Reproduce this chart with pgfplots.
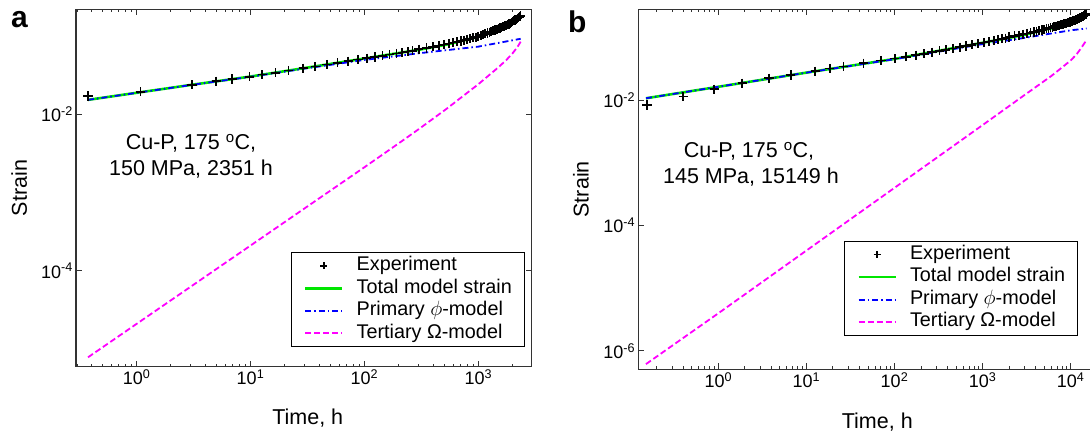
\documentclass[border=0pt]{standalone}
\usepackage{fontspec}
\setmainfont{Liberation Sans}
\usepackage{pgfplots}
\pgfplotsset{compat=1.18}
\definecolor{mgreen}{RGB}{0,230,0}
\definecolor{mblue}{RGB}{0,0,255}
\definecolor{mmag}{RGB}{255,0,255}
\pgfplotsset{
  myaxisstyle/.style={
    scale only axis,
    axis line style={black!80, line width=1.1pt},
    tick style={black!80, line width=0.9pt},
    major tick length=6pt, minor tick length=3pt, tick align=inside,
    yminorticks=false,
    xticklabel style={font=\fontsize{18}{18}\selectfont, inner sep=3pt},
    yticklabel style={font=\fontsize{18}{18}\selectfont, inner sep=3pt},
    label style={font=\fontsize{21.5}{24}\selectfont},
    legend cell align=left,
    legend style={anchor=south east, draw=black, line width=1.3pt, fill=white,
      font=\fontsize{19.8}{22}\selectfont, inner xsep=12.5pt, inner ysep=2pt,
      row sep=0pt, column sep=0pt,
      /tikz/every even column/.style={column sep=0pt},
      nodes={inner xsep=0pt, inner ysep=2pt, text height=14pt, text depth=4.5pt}},
  },
  myexpt/.style={only marks, mark=+, mark size=4.6pt, black, mark options={line width=1.7pt},
    legend image code/.code={\draw[##1,mark size=3.6pt,mark repeat=2,mark phase=2] plot coordinates {(0pt,0pt) (18.5pt,0pt) (37pt,0pt)}; \path[draw=none,fill=none] (0pt,0pt) (51.4pt,0pt);}},
  mytot/.style={mgreen, line width=2.6pt, legend image code/.code={\draw[##1] (0pt,0pt) -- (37pt,0pt); \path[draw=none,fill=none] (0pt,0pt) (51.4pt,0pt);}},
  myprim/.style={mblue, line width=1.8pt, dash pattern=on 6pt off 3pt on 1.5pt off 3pt, legend image code/.code={\draw[##1] (0pt,0pt) -- (37pt,0pt); \path[draw=none,fill=none] (0pt,0pt) (51.4pt,0pt);}},
  mytert/.style={mmag, line width=1.8pt, dash pattern=on 6pt off 3pt, legend image code/.code={\draw[##1] (0pt,0pt) -- (37pt,0pt); \path[draw=none,fill=none] (0pt,0pt) (51.4pt,0pt);}},
}
\begin{document}
\begin{tikzpicture}
% ---------------- panel a ----------------
\begin{loglogaxis}[myaxisstyle,
  at={(76pt,68.3pt)}, anchor=south west, width=455.7pt, height=357.4pt,
  xmin=0.294, xmax=2940, ymin=5.94e-6, ymax=0.217,
  xtick={1,10,100,1000},
  xticklabels={10\textsuperscript{0},10\textsuperscript{1},10\textsuperscript{2},10\textsuperscript{3}},
  minor xtick={0.3,0.4,0.5,0.6,0.7,0.8,0.9,2,3,4,5,6,7,8,9,20,30,40,50,60,70,80,90,200,300,400,500,600,700,800,900,2000},
  ytick={1e-4,1e-2},
  yticklabels={10\textsuperscript{-4},10\textsuperscript{-2}},
  xlabel={Time, h}, ylabel={Strain},
  xlabel style={at={(axis description cs:0.5085,-0.1631)}, anchor=base},
  ylabel style={at={(axis description cs:-0.1244,0.5)}, anchor=center},
  legend style={at={(axis description cs:0.9853,0.0543)}},
]
\addplot[myexpt] coordinates {
(0.375,0.0170) (1.08,0.01928) (3.06,0.0236) (5.0,0.0261) (6.9,0.0279) (9.8,0.0299)
(12.7,0.0318) (16.6,0.0337) (21.5,0.0358) (29,0.0384) (37,0.0405) (47,0.0429)
(58,0.0450) (72,0.0472) (88,0.0494) (105,0.0514) (123,0.0534) (144,0.0554)
(166,0.0573) (191,0.0592) (215,0.0609) (240,0.0625) (265,0.0640)
(300,0.0672) (350,0.0697) (400,0.0722) (450,0.0748) (500,0.0773) (550,0.0796)
(600,0.0816) (650,0.0836) (700,0.0856) (750,0.0877) (800,0.0897) (850,0.0917)
(900,0.0937) (950,0.0958) (1000,0.0978) (1050,0.1003) (1100,0.1028) (1150,0.1054)
(1200,0.1079) (1250,0.1104) (1300,0.1129) (1350,0.1154) (1400,0.1180) (1450,0.1205)
(1500,0.1230) (1550,0.1254) (1600,0.1278) (1650,0.1302) (1700,0.1326) (1750,0.1350)
(1800,0.1378) (1850,0.1410) (1900,0.1442) (1950,0.1474) (2000,0.1506) (2050,0.1545)
(2100,0.1585) (2150,0.1625) (2200,0.1665) (2250,0.1704) (2300,0.1744) (2351,0.1785)
};
\addlegendentry{Experiment}
\addplot[mytot] coordinates {
(0.375,0.01515) (1,0.01864) (3,0.0235) (10,0.03006) (30,0.03865) (100,0.05107)
(300,0.06598) (526,0.07694) (1000,0.09643) (1500,0.12025) (1774,0.13399) (2000,0.1470)
(2200,0.1607) (2351,0.17495)
};
\addlegendentry{Total model strain}
\addplot[myprim] coordinates {
(0.375,0.01514) (1,0.01862) (3,0.02344) (10,0.02985) (30,0.03802) (100,0.04898)
(300,0.05957) (526,0.0653) (1000,0.07244) (1500,0.0808) (2000,0.0873) (2200,0.0896) (2351,0.0912)
};
\addlegendentry{Primary $\phi$-model}
\addplot[mytert] coordinates {
(0.375,7.83e-6) (1,2.09e-5) (3,6.27e-5) (10,2.09e-4) (30,6.27e-4) (100,2.09e-3)
(200,4.22e-3) (300,6.41e-3) (526,0.01164) (1000,0.02399) (1500,0.03945) (1774,0.04943)
(2000,0.0597) (2200,0.0711) (2351,0.08375)
};
\addlegendentry{Tertiary Ω-model}
\end{loglogaxis}
% ---------------- panel b ----------------
\begin{loglogaxis}[myaxisstyle,
  at={(638.3pt,65.7pt)}, anchor=south west, width=470pt, height=360pt,
  xmin=0.1236, xmax=26720, ymin=5.1e-7, ymax=0.2786,
  xtick={1,10,100,1000,10000},
  xticklabels={10\textsuperscript{0},10\textsuperscript{1},10\textsuperscript{2},10\textsuperscript{3},10\textsuperscript{4}},
  minor xtick={0.2,0.3,0.4,0.5,0.6,0.7,0.8,0.9,2,3,4,5,6,7,8,9,20,30,40,50,60,70,80,90,200,300,400,500,600,700,800,900,2000,3000,4000,5000,6000,7000,8000,9000,20000},
  ytick={1e-6,1e-4,1e-2},
  yticklabels={10\textsuperscript{-6},10\textsuperscript{-4},10\textsuperscript{-2}},
  xlabel={Time, h}, ylabel={Strain},
  xlabel style={at={(axis description cs:0.5085,-0.1658)}, anchor=base},
  ylabel style={at={(axis description cs:-0.1219,0.5)}, anchor=center},
  legend style={at={(axis description cs:0.9362,0.0925)}},
]
\addplot[myexpt] coordinates {
(0.155,0.00832) (0.40,0.01130) (0.90,0.01483) (1.87,0.01845) (3.76,0.02218) (6.65,0.02500)
(12.6,0.02884) (18.4,0.03162) (26.4,0.03428) (44.6,0.03846) (70.3,0.04246) (101,0.0456)
(135,0.0486) (174,0.0516) (216,0.0543) (266,0.0576) (324,0.0606) (382,0.0632)
(458,0.0662) (549,0.0695) (647,0.0726) (754,0.0756) (887,0.0790) (1035,0.0823)
(1186,0.0851) (1340,0.0888) (1500,0.0915) (1660,0.0941) (1820,0.0967)
(2000,0.1006) (2300,0.1043) (2600,0.1080) (2900,0.1118) (3200,0.1150) (3500,0.1179)
(3800,0.1209) (4100,0.1239) (4400,0.1269) (4700,0.1299) (5000,0.1329) (5300,0.1358)
(5600,0.1388) (5900,0.1418) (6200,0.1445) (6500,0.1471) (6800,0.1497) (7100,0.1523)
(7400,0.1549) (7700,0.1576) (8000,0.1602) (8300,0.1626) (8600,0.1651) (8900,0.1676)
(9200,0.1701) (9500,0.1725) (9800,0.1750) (10100,0.1775) (10400,0.1801) (10700,0.1828)
(11000,0.1854) (11300,0.1880) (11600,0.1906) (11900,0.1938) (12200,0.1973) (12500,0.2008)
(12800,0.2043) (13100,0.2078) (13400,0.2113) (13700,0.2154) (14000,0.2196) (14300,0.2237)
(14600,0.2277) (14900,0.2318) (15149,0.2330)
};
\addlegendentry{Experiment}
\addplot[mytot] coordinates {
(0.151,0.01064) (1,0.01622) (10,0.02727) (100,0.04507) (1000,0.0816) (2000,0.0977)
(3000,0.1097) (6000,0.1386) (8000,0.1555) (10000,0.1715) (11700,0.1859) (13340,0.2044) (15149,0.2284)
};
\addlegendentry{Total model strain}
\addplot[myprim] coordinates {
(0.151,0.01064) (1,0.01622) (10,0.02723) (100,0.04467) (1000,0.07762) (3000,0.09772)
(6000,0.1146) (10000,0.1288) (15149,0.1380)
};
\addlegendentry{Primary $\phi$-model}
\addplot[mytert] coordinates {
(0.151,6.17e-7) (1,3.98e-6) (10,3.98e-5) (100,3.98e-4) (1000,3.98e-3) (3000,0.01202)
(6000,0.02399) (8000,0.0331) (10000,0.04266) (11700,0.0537) (13340,0.0692) (15149,0.0904)
};
\addlegendentry{Tertiary Ω-model}
\end{loglogaxis}
% annotations
\node[anchor=base, inner sep=0, font=\fontsize{21.5}{24}\selectfont] at (191pt,285pt) {Cu-P, 175 \textsuperscript{o}C,};
\node[anchor=base, inner sep=0, font=\fontsize{21.5}{24}\selectfont] at (191pt,259pt) {150 MPa, 2351 h};
\node[anchor=base, inner sep=0, font=\fontsize{21.5}{24}\selectfont] at (749pt,277pt) {Cu-P, 175 \textsuperscript{o}C,};
\node[anchor=base, inner sep=0, font=\fontsize{21.5}{24}\selectfont] at (751pt,251.4pt) {145 MPa, 15149 h};
\node[anchor=base west, inner sep=0, font=\bfseries\fontsize{30}{30}\selectfont] at (11pt,407pt) {a};
\node[anchor=base west, inner sep=0, font=\bfseries\fontsize{30}{30}\selectfont] at (568pt,402pt) {b};
\pgfresetboundingbox
\useasboundingbox (0,0) rectangle (1090pt,435pt);
\end{tikzpicture}
\end{document}
